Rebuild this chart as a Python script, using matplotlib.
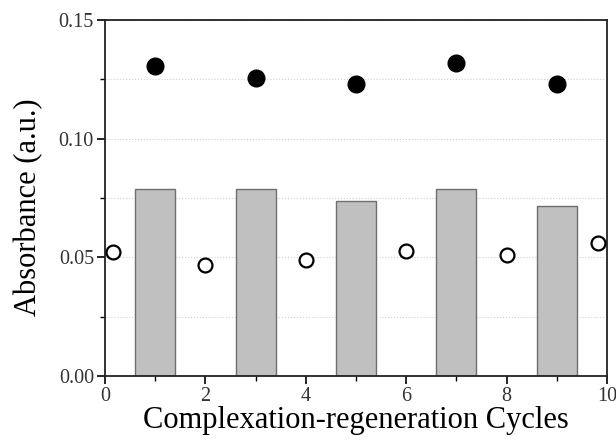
import matplotlib
matplotlib.use("Agg")
import matplotlib.pyplot as plt
from matplotlib.ticker import MultipleLocator, FormatStrFormatter

# ── Data ─────────────────────────────────────────────────────────────────────
bar_x = [1, 3, 5, 7, 9]
bar_h = [0.0787, 0.0787, 0.0737, 0.0787, 0.0718]

filled_x = [1, 3, 5, 7, 9]
filled_y = [0.1308, 0.1257, 0.1229, 0.1320, 0.1229]

open_x = [0.15, 2, 4, 6, 8, 9.83]
open_y = [0.0521, 0.0468, 0.0489, 0.0528, 0.0510, 0.0559]

plt.rcParams["font.family"] = ["Liberation Serif", "DejaVu Serif"]

fig = plt.figure(figsize=(6.16, 4.41), dpi=100)
ax = fig.add_axes([105 / 616, 1 - 376 / 441, 502 / 616, 356 / 441])

ax.bar(bar_x, bar_h, width=0.8, color="#c0c0c0", edgecolor="#6e6e6e",
       linewidth=1.0, zorder=2)
ax.plot(filled_x, filled_y, "o", color="black", markersize=12, zorder=3,
        clip_on=False)
ax.plot(open_x, open_y, "o", markerfacecolor="white", markeredgecolor="black",
        markeredgewidth=1.6, markersize=10, zorder=3, clip_on=False)

ax.set_xlim(0, 10)
ax.set_ylim(0, 0.15)
ax.xaxis.set_major_locator(MultipleLocator(2))
ax.xaxis.set_minor_locator(MultipleLocator(1))
ax.yaxis.set_major_locator(MultipleLocator(0.05))
ax.yaxis.set_minor_locator(MultipleLocator(0.025))
ax.yaxis.set_major_formatter(FormatStrFormatter("%.2f"))

ax.grid(which="both", axis="y", color="#d0d0d0", linestyle=":", linewidth=0.8,
        zorder=0)
ax.set_axisbelow(True)

ax.tick_params(which="major", direction="out", length=6, width=1.2,
               labelsize=14.5, pad=2, colors="black")
ax.tick_params(which="minor", direction="out", length=3.5, width=1.0)
ax.tick_params(axis="both", labelcolor="#333333")
for s in ax.spines.values():
    s.set_linewidth(1.3)
    s.set_color("#222222")

ax.set_xlabel("Complexation-regeneration Cycles", fontsize=22, labelpad=0)
ax.set_ylabel("Absorbance (a.u.)", fontsize=22, labelpad=11)
ax.yaxis.label.set_y(0.475)

fig.savefig("out.png", dpi=100)
